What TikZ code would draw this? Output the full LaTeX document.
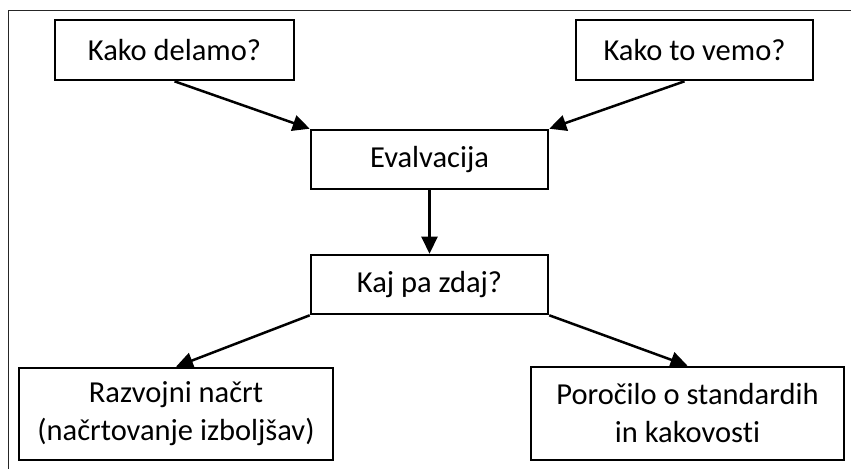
\documentclass[tikz,border=0pt]{standalone}
\usepackage{fontspec}
\setmainfont{Carlito}[Ligatures=NoCommon]
\usetikzlibrary{arrows.meta}
\begin{document}
\begin{tikzpicture}[x=1pt,y=-1pt,
  box/.style={draw=black,line width=2.6pt,fill=white,inner sep=0pt,align=center,
    font=\fontsize{30.5}{38}\selectfont},
  conn/.style={line width=2.5pt,-{Triangle[length=17pt,width=16pt]}},
  frame/.style={draw=black!85,line width=1pt}]
\useasboundingbox (0,0) rectangle (851,469);
\coordinate (f1) at (851,10);
\coordinate (f2) at (8,10);
\coordinate (f3) at (8,469);
\draw[frame] (f1) -- (f2) -- (f3);
\node[box,minimum width=239pt,minimum height=60pt] (kd) at (174.5,50) {Kako delamo?};
\node[box,minimum width=237pt,minimum height=60pt] (kv) at (694.5,50) {Kako to vemo?};
\node[box,minimum width=237pt,minimum height=59pt] (ev) at (429.5,159.5) {Evalvacija};
\node[box,minimum width=237pt,minimum height=59pt] (kp) at (429.5,284.5) {Kaj pa zdaj?};
\node[box,minimum width=314pt,minimum height=92pt] (rn) at (176,414) {Razvojni načrt\\(načrtovanje izboljšav)};
\node[box,minimum width=313pt,minimum height=93pt] (po) at (687.5,413.5) {Poročilo o standardih\\in kakovosti};
\draw[conn] (kd.south) -- (ev.north west);
\draw[conn] ([xshift=-10pt]kv.south) -- (ev.north east);
\draw[conn] (ev.south) -- (kp.north);
\draw[conn] (kp.south west) -- (rn.north);
\draw[conn] (kp.south east) -- (po.north);
\end{tikzpicture}
\end{document}
